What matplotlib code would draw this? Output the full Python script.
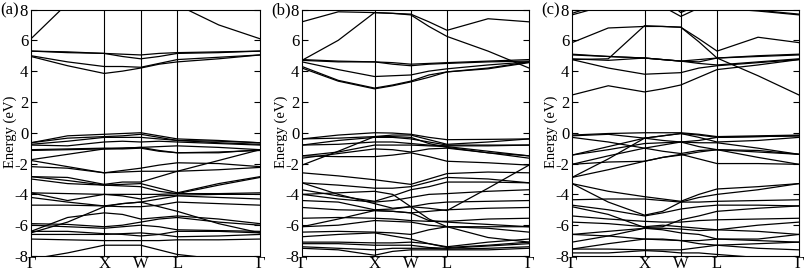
import matplotlib
matplotlib.use("Agg")
import matplotlib.pyplot as plt
from matplotlib.ticker import FormatStrFormatter, MultipleLocator

plt.rcParams['font.family'] = ['Liberation Serif', 'DejaVu Serif']
plt.rcParams['axes.unicode_minus'] = False

# k path: Gamma, mid, X, mid, W, mid, L, mid, Gamma
kpath = [0.0, 0.5, 1.0, 1.25, 1.5, 1.75, 2.0, 2.565, 3.13]
kticks = [0.0, 1.0, 1.5, 2.0, 3.13]
klabels = ['Γ', 'X', 'W', 'L', 'Γ']

a_cond = [
    [6.1, 8.4, 9.5, 9.5, 9.5, 9.0, 8.3, 7.0, 6.1],
    [5.3, 5.25, 5.15, 5.1, 5.05, 5.15, 5.2, 5.25, 5.3],
    [5.3, 5.2, 5.15, 4.95, 4.8, 4.95, 5.15, 5.2, 5.3],
    [5.0, 4.6, 4.3, 4.3, 4.25, 4.5, 4.75, 4.9, 5.05],
    [4.95, 4.35, 3.85, 4.0, 4.2, 4.45, 4.6, 4.8, 5.05],
]
a_val = [
    [-0.65, -0.2, -0.1, -0.05, 0.0, -0.2, -0.4, -0.5, -0.65],
    [-0.65, -0.35, -0.25, -0.2, -0.1, -0.3, -0.5, -0.55, -0.65],
    [-0.75, -0.55, -0.3, -0.3, -0.3, -0.4, -0.5, -0.65, -0.75],
    [-0.8, -0.85, -0.6, -0.55, -0.6, -0.55, -0.6, -0.7, -0.8],
    [-1.1, -1.05, -1.0, -1.0, -0.95, -0.9, -0.85, -0.95, -1.1],
    [-1.15, -1.1, -1.05, -1.05, -1.0, -1.2, -1.3, -1.25, -1.15],
    [-1.75, -1.4, -1.05, -1.0, -0.95, -1.15, -1.3, -1.3, -1.1],
    [-1.8, -2.2, -2.6, -2.45, -2.3, -2.1, -1.95, -2.0, -2.2],
    [-2.2, -2.3, -2.6, -2.55, -2.5, -2.5, -2.5, -2.4, -2.25],
    [-2.85, -2.9, -3.35, -3.2, -3.2, -2.85, -2.5, -1.8, -1.1],
    [-2.85, -3.1, -3.4, -3.35, -3.3, -3.6, -3.9, -3.3, -2.85],
    [-3.0, -3.3, -3.4, -3.45, -3.5, -3.8, -3.95, -3.4, -2.9],
    [-3.9, -3.95, -4.0, -4.0, -4.0, -4.0, -3.95, -3.95, -3.9],
    [-3.9, -4.4, -4.0, -4.1, -4.3, -4.1, -4.05, -4.0, -4.0],
    [-4.2, -4.5, -4.75, -4.6, -4.5, -4.3, -4.1, -4.2, -4.3],
    [-4.7, -4.7, -4.75, -4.8, -4.8, -4.7, -4.5, -4.6, -4.7],
    [-6.5, -5.8, -4.8, -4.6, -4.5, -4.8, -5.1, -5.9, -6.5],
    [-6.4, -5.5, -5.2, -5.3, -5.6, -5.5, -5.4, -5.6, -5.9],
    [-5.9, -5.95, -6.1, -6.0, -5.8, -5.6, -5.5, -5.8, -6.0],
    [-6.0, -6.1, -6.2, -6.1, -6.0, -6.1, -6.3, -6.35, -6.4],
    [-6.4, -6.4, -6.55, -6.6, -6.7, -6.6, -6.4, -6.4, -6.5],
    [-6.6, -6.6, -6.6, -6.55, -6.5, -6.6, -6.75, -6.7, -6.6],
    [-6.9, -6.95, -7.0, -7.0, -7.0, -7.0, -6.95, -6.95, -6.9],
    [-8.2, -7.8, -7.3, -7.3, -7.3, -7.6, -7.9, -8.2, -8.6],
]

b_cond = [
    [7.2, 7.85, 7.8, 7.75, 7.7, 7.2, 6.65, 7.4, 7.2],
    [4.7, 6.0, 7.8, 7.75, 7.65, 6.9, 6.25, 5.3, 4.2],
    [4.75, 4.65, 4.6, 4.55, 4.45, 4.5, 4.55, 4.65, 4.75],
    [4.7, 4.6, 4.6, 4.45, 4.35, 4.45, 4.5, 4.6, 4.65],
    [4.6, 4.1, 3.65, 3.7, 3.75, 4.0, 4.15, 4.4, 4.6],
    [4.3, 3.4, 2.9, 3.1, 3.35, 3.75, 3.95, 4.2, 4.6],
    [4.2, 3.35, 2.85, 3.05, 3.3, 3.6, 3.95, 4.15, 4.55],
]
b_val = [
    [-0.4, -0.15, 0.0, -0.02, -0.1, -0.3, -0.45, -0.43, -0.4],
    [-0.4, -0.35, -0.25, -0.15, -0.15, -0.45, -0.75, -0.6, -0.4],
    [-0.8, -0.5, -0.3, -0.3, -0.4, -0.6, -0.8, -0.8, -0.8],
    [-0.8, -0.75, -0.6, -0.6, -0.7, -0.8, -0.85, -0.85, -0.8],
    [-1.5, -1.25, -0.8, -0.8, -0.8, -0.85, -0.9, -1.2, -1.5],
    [-1.65, -1.35, -1.05, -1.1, -1.25, -1.05, -1.0, -1.3, -1.65],
    [-2.1, -1.2, -0.25, -0.25, -0.3, -0.7, -0.95, -1.3, -1.5],
    [-1.5, -1.55, -1.55, -1.45, -1.3, -1.55, -1.85, -1.95, -2.1],
    [-2.6, -2.8, -3.05, -3.2, -3.35, -3.0, -2.65, -2.55, -2.6],
    [-3.25, -4.0, -4.6, -4.9, -4.8, -4.9, -5.05, -3.6, -2.1],
    [-3.25, -3.4, -3.6, -3.6, -3.5, -3.2, -2.9, -3.0, -3.25],
    [-3.7, -4.1, -4.45, -4.1, -3.7, -3.5, -3.2, -3.2, -3.25],
    [-4.0, -4.3, -4.5, -4.4, -4.2, -4.0, -3.95, -3.8, -3.7],
    [-4.4, -4.5, -5.0, -4.95, -4.8, -4.6, -4.5, -4.45, -4.4],
    [-4.85, -5.0, -5.05, -5.1, -5.2, -5.1, -5.0, -4.9, -4.85],
    [-4.0, -3.9, -3.8, -4.0, -4.8, -5.6, -6.1, -6.8, -7.1],
    [-5.55, -5.5, -5.55, -5.6, -5.7, -5.75, -5.75, -5.6, -5.55],
    [-6.1, -5.6, -5.05, -5.1, -5.2, -5.7, -5.8, -5.95, -6.1],
    [-6.1, -6.0, -5.7, -5.75, -5.8, -6.0, -6.1, -6.1, -6.1],
    [-6.45, -6.4, -6.45, -6.5, -6.6, -6.3, -6.1, -6.2, -6.45],
    [-6.75, -6.6, -6.5, -6.7, -6.9, -7.2, -7.4, -7.1, -6.9],
    [-7.1, -7.1, -7.15, -7.15, -7.1, -7.2, -7.45, -7.3, -7.1],
    [-7.2, -7.2, -7.3, -7.3, -7.3, -7.45, -7.5, -7.35, -7.2],
    [-7.4, -7.5, -7.6, -7.5, -7.5, -7.5, -7.55, -7.5, -7.4],
    [-7.5, -7.6, -7.95, -7.7, -7.6, -7.6, -7.6, -7.6, -7.5],
]

c_cond = [
    [7.65, 8.3, 8.6, 8.2, 7.55, 8.1, 8.1, 7.9, 7.65],
    [7.75, 8.5, 9.0, 8.8, 7.8, 8.3, 8.0, 7.95, 7.7],
    [5.85, 6.8, 6.9, 6.9, 6.85, 6.1, 5.3, 6.2, 5.85],
    [4.75, 4.8, 6.95, 6.9, 6.85, 5.9, 4.85, 3.7, 2.45],
    [2.45, 3.05, 2.65, 2.85, 3.1, 3.6, 4.1, 4.4, 4.75],
    [5.1, 4.95, 4.85, 4.75, 4.65, 4.75, 4.85, 5.0, 5.1],
    [5.05, 4.95, 4.85, 4.75, 4.65, 4.6, 4.85, 4.95, 5.05],
    [4.8, 4.7, 4.85, 4.75, 4.65, 4.5, 4.4, 4.6, 4.8],
    [4.75, 4.2, 3.8, 3.85, 3.9, 4.2, 4.35, 4.55, 4.75],
]
c_val = [
    [-0.15, -0.05, 0.0, 0.0, 0.0, -0.1, -0.25, -0.2, -0.15],
    [-0.2, -0.1, -0.35, -0.2, -0.05, -0.15, -0.3, -0.25, -0.2],
    [-0.3, -0.6, -1.0, -0.8, -0.6, -0.5, -0.3, -0.25, -0.2],
    [-1.45, -0.9, -0.35, -0.5, -0.6, -0.65, -0.65, -1.0, -1.4],
    [-1.45, -1.1, -0.7, -0.65, -0.6, -0.9, -1.1, -1.25, -1.4],
    [-2.05, -1.5, -1.0, -1.2, -1.35, -1.15, -1.1, -1.15, -1.4],
    [-2.05, -1.9, -1.85, -1.6, -1.4, -1.7, -2.0, -2.0, -2.05],
    [-2.9, -2.4, -1.85, -1.6, -1.45, -1.25, -1.1, -1.6, -2.05],
    [-2.9, -1.7, -0.35, -0.2, -0.05, -0.3, -0.6, -0.5, -0.3],
    [-3.3, -3.8, -4.15, -4.3, -4.45, -4.0, -3.65, -3.5, -3.3],
    [-3.3, -4.5, -5.35, -5.1, -4.5, -4.2, -4.0, -3.7, -3.3],
    [-4.35, -4.3, -4.3, -4.4, -4.5, -4.5, -4.45, -4.4, -4.35],
    [-4.7, -5.0, -5.4, -5.2, -4.95, -4.8, -4.7, -4.7, -4.75],
    [-4.8, -5.3, -6.15, -6.1, -5.65, -5.4, -5.1, -4.9, -4.75],
    [-5.4, -5.6, -5.75, -5.8, -5.8, -5.7, -5.65, -5.6, -5.55],
    [-5.8, -5.9, -6.1, -6.0, -6.1, -6.2, -6.3, -6.0, -5.8],
    [-6.6, -6.4, -6.2, -6.2, -6.25, -6.35, -6.3, -6.4, -6.6],
    [-7.1, -6.7, -6.2, -6.3, -6.5, -6.6, -6.9, -6.9, -6.6],
    [-6.6, -6.7, -6.9, -6.9, -7.0, -7.0, -6.9, -7.0, -7.1],
    [-7.55, -7.2, -6.9, -6.95, -7.0, -7.2, -7.3, -7.2, -7.1],
    [-7.55, -7.55, -7.6, -7.6, -7.6, -7.45, -7.3, -7.5, -7.6],
    [-7.8, -7.8, -7.65, -7.7, -7.8, -7.8, -7.9, -8.1, -8.3],
]

panels = [
    ('(a)', a_cond + a_val, 31, 260),
    ('(b)', b_cond + b_val, 302, 529),
    ('(c)', c_cond + c_val, 572, 799),
]

W, H = 808, 272
fig = plt.figure(figsize=(W / 100, H / 100), dpi=100)
top_px, bot_px = 9.5, 256

for letter, bands, x0, x1 in panels:
    ax = fig.add_axes([x0 / W, 1 - bot_px / H, (x1 - x0) / W, (bot_px - top_px) / H])
    for band in bands:
        ax.plot(kpath, band, color='black', lw=0.9, solid_joinstyle='round')
    for kv in kticks[1:-1]:
        ax.axvline(kv, color='black', lw=0.8)
    ax.set_xlim(kticks[0], kticks[-1])
    ax.set_ylim(-8, 8)
    ax.set_xticks(kticks)
    ax.set_xticklabels(klabels, fontsize=12)
    ax.yaxis.set_major_locator(MultipleLocator(2))
    ax.yaxis.set_major_formatter(FormatStrFormatter('%d'))
    ax.tick_params(axis='y', direction='in', length=4, width=0.8,
                   left=True, right=True, labelsize=12, pad=2)
    ax.tick_params(axis='x', length=0, pad=0)
    for s in ax.spines.values():
        s.set_linewidth(0.8)
    fig.text((x0 - 31) / W, 1 - 10 / H, letter, fontsize=12, ha='left', va='center')
    fig.text((x0 - 21) / W, 1 - 132 / H, 'Energy (eV)', fontsize=10.5,
             rotation=90, ha='center', va='center')

fig.savefig('out.png', dpi=100)
